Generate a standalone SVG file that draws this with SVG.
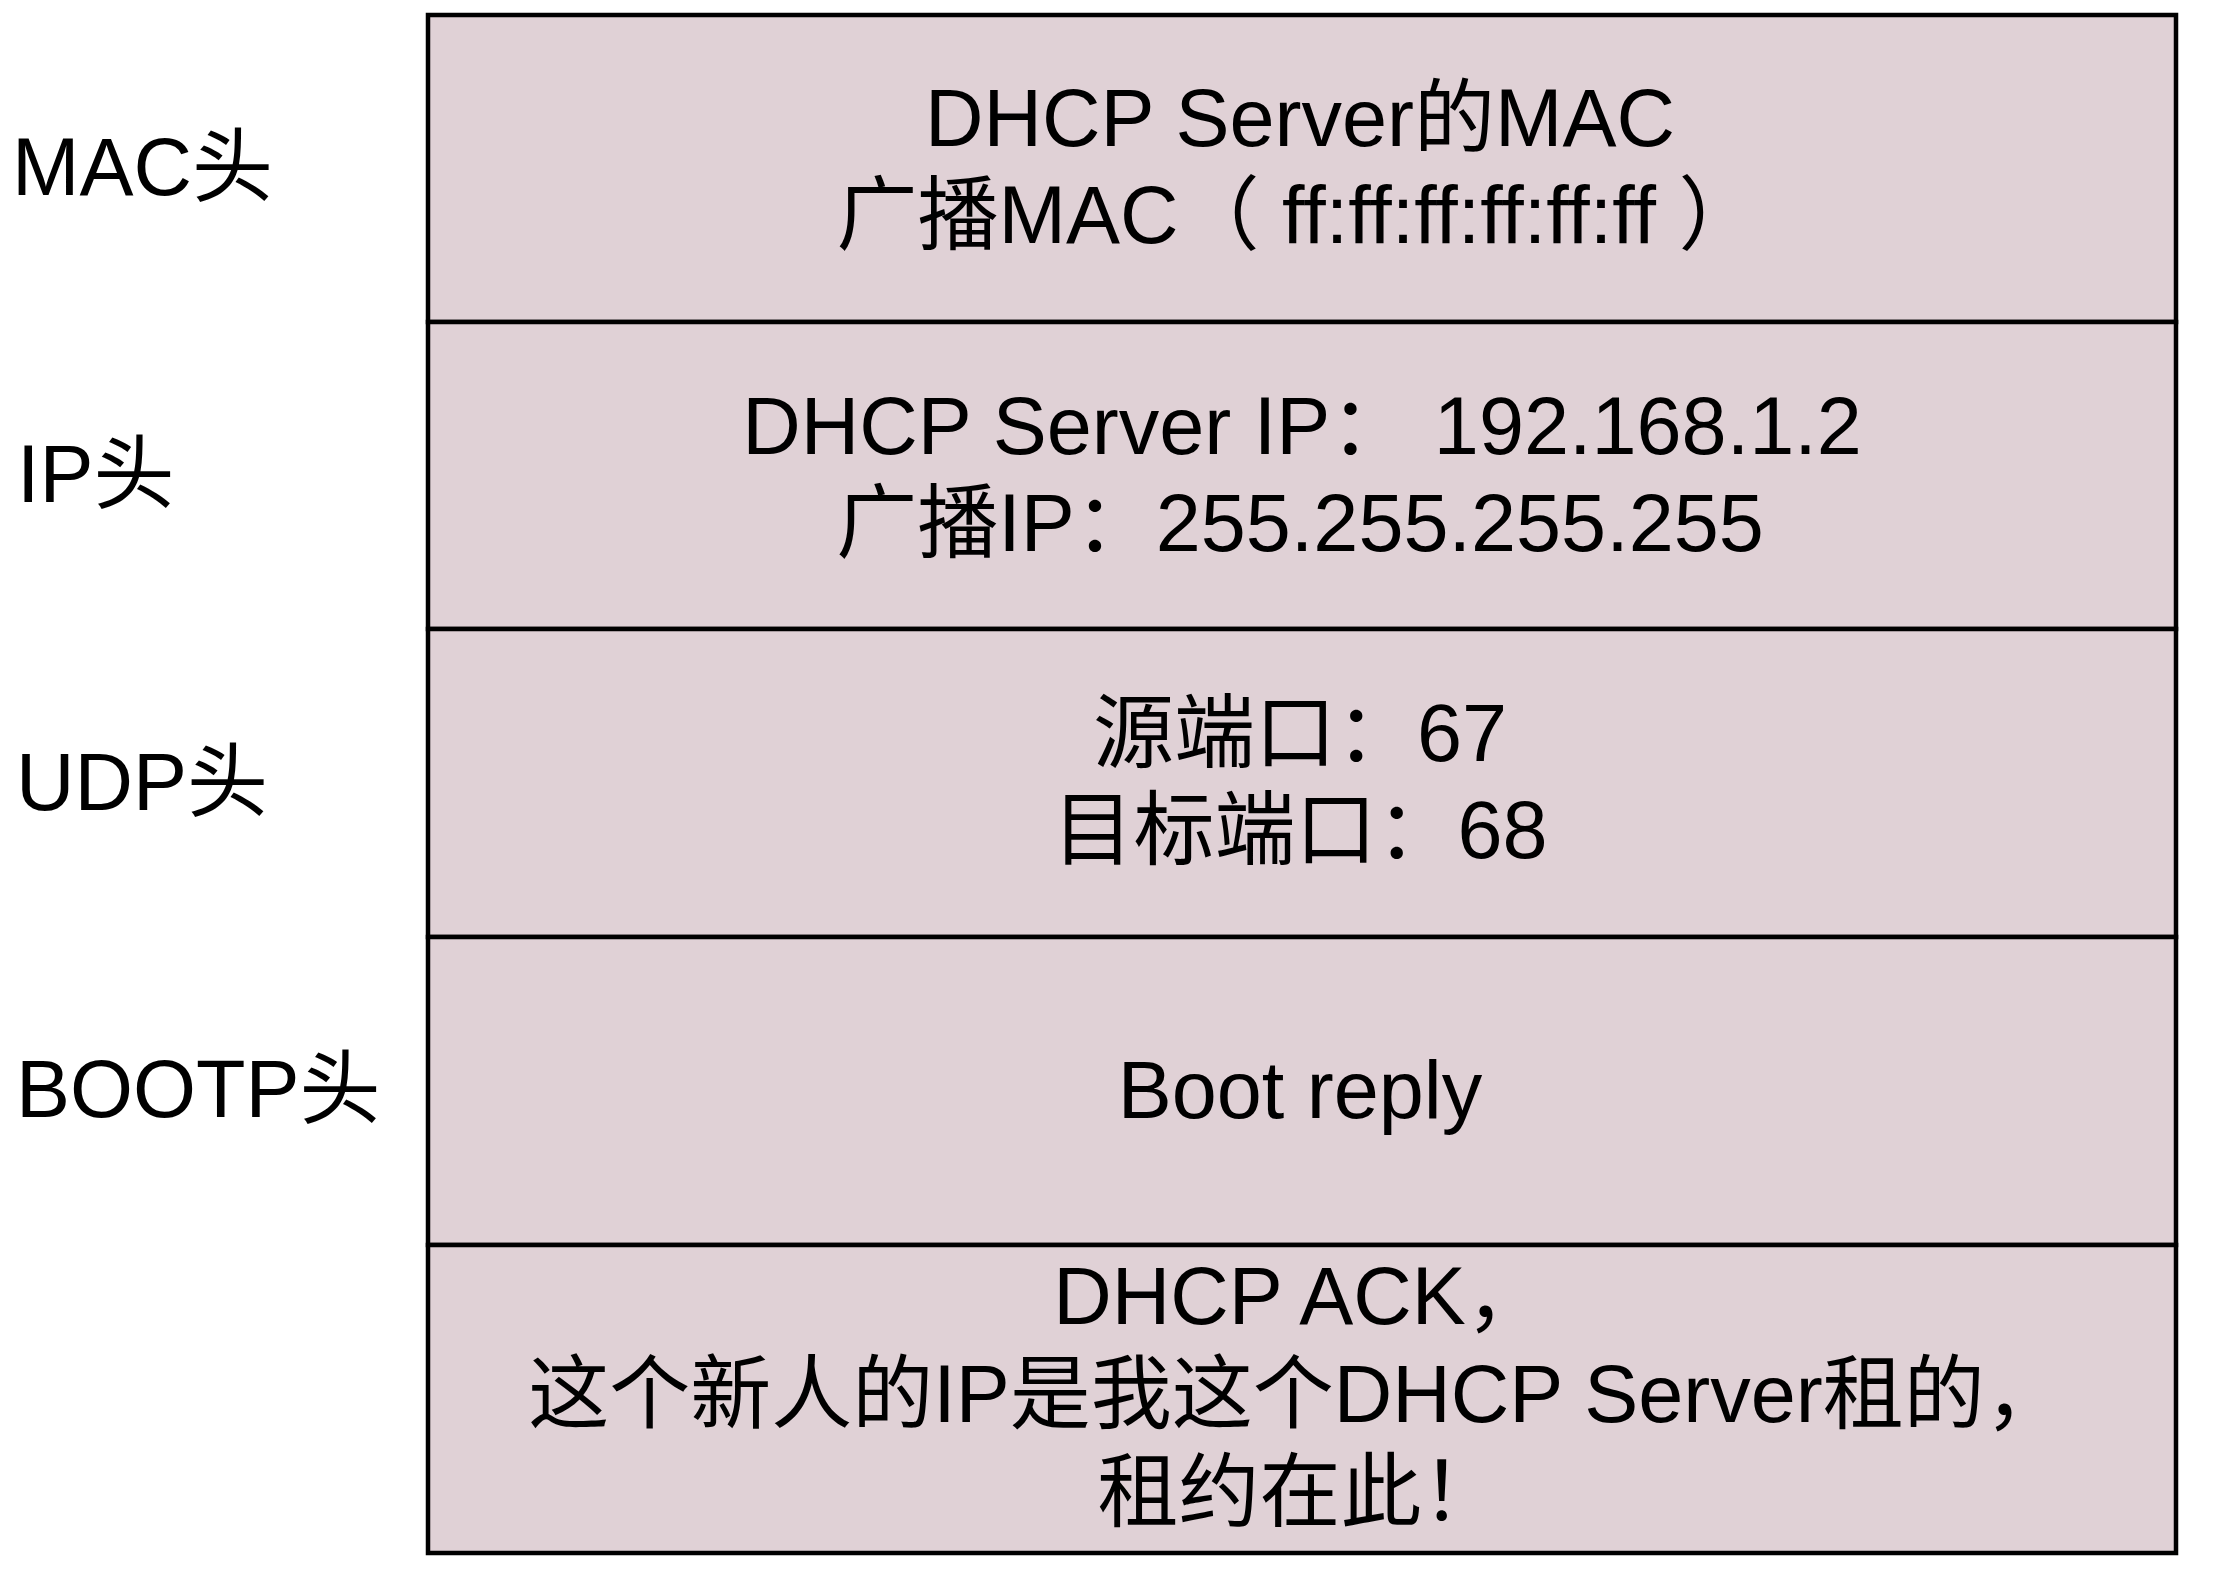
<svg xmlns="http://www.w3.org/2000/svg" width="2218" height="1574" viewBox="0 0 2218 1574">
<style>
text{font-family:"Liberation Sans","Noto Sans CJK SC",sans-serif;font-size:81px;fill:#000}
.c{text-anchor:middle}
.row{fill:#e0d1d6;stroke:#000;stroke-width:4.5}
</style>
<rect width="2218" height="1574" fill="#fff"/>
<g id="labels">
<text x="12" y="195">MAC头</text>
<text x="17" y="502">IP头</text>
<text x="16" y="810">UDP头</text>
<text x="16" y="1117">BOOTP头</text>
</g>
<g id="mac">
<rect class="row" x="428" y="15" width="1748" height="307"/>
<text class="c" x="1300" y="146">DHCP Server的MAC</text>
<text class="c" x="1298" y="243" xml:space="preserve">广播MAC（ ff:ff:ff:ff:ff:ff ）</text>
</g>
<g id="ip">
<rect class="row" x="428" y="322" width="1748" height="307"/>
<text class="c" x="1302" y="454" xml:space="preserve">DHCP Server IP： 192.168.1.2</text>
<text class="c" x="1300" y="551">广播IP：255.255.255.255</text>
</g>
<g id="udp">
<rect class="row" x="428" y="629" width="1748" height="308"/>
<text class="c" x="1300" y="761">源端口：67</text>
<text class="c" x="1300" y="858">目标端口：68</text>
</g>
<g id="bootp">
<rect class="row" x="428" y="937" width="1748" height="308"/>
<text class="c" x="1300" y="1118">Boot reply</text>
</g>
<g id="dhcp">
<rect class="row" x="428" y="1245" width="1748" height="308"/>
<text class="c" x="1300" y="1324">DHCP ACK，</text>
<text class="c" x="1297" y="1422">这个新人的IP是我这个DHCP Server租的，</text>
<text class="c" x="1300" y="1520">租约在此！</text>
</g>
<g id="connectors"></g>
</svg>
